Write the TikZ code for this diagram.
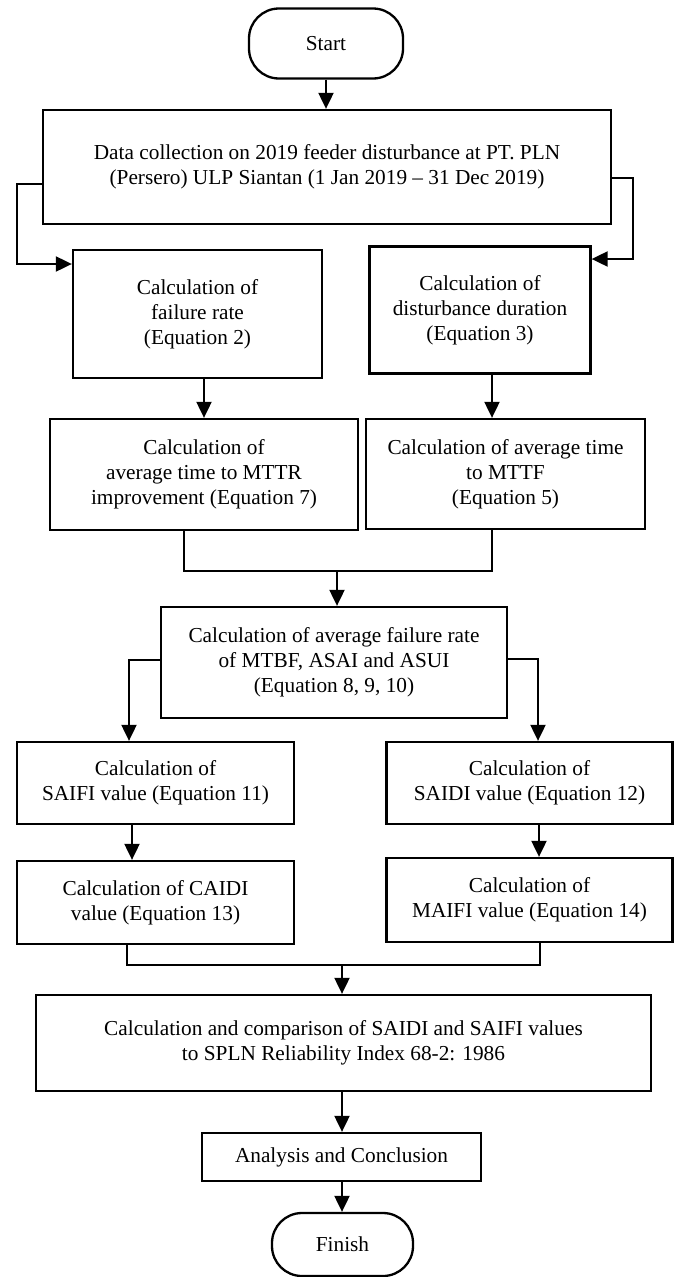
\documentclass[tikz,border=0pt]{standalone}
\usepackage{fontspec}
\setmainfont{Liberation Serif}
\usetikzlibrary{arrows.meta}
\begin{document}
\begin{tikzpicture}[x=1pt,y=-1pt,
  box/.style={draw,line width=2.3pt,inner sep=0pt,align=center,font=\fontsize{21.3}{25}\selectfont},
  term/.style={box,rounded corners=30pt},
  arr/.style={line width=2pt,-{Triangle[length=16pt,width=15pt]}},
  ln/.style={line width=2pt}]
\useasboundingbox (0,0) rectangle (677,1277);
% nodes
\node[term,minimum width=154pt,minimum height=70pt] (start) at (326,43.5) {Start};
\node[box,minimum width=568pt,minimum height=114pt] (data) at (327,167) {Data collection on 2019 feeder disturbance at PT. PLN\\(Persero) ULP Siantan (1 Jan 2019 – 31 Dec 2019)};
\node[box,minimum width=249pt,minimum height=128pt] (fail) at (197.5,314) {Calculation of\\failure rate\\(Equation 2)};
\node[box,minimum width=221pt,minimum height=127pt] (dist) at (480,310) {Calculation of\\disturbance duration\\(Equation 3)};
\node[box,minimum width=308pt,minimum height=111pt] (mttr) at (204,474.5) {Calculation of\\average time to MTTR\\improvement (Equation 7)};
\node[box,minimum width=279pt,minimum height=110pt] (mttf) at (505.5,474) {Calculation of average time\\to MTTF\\(Equation 5)};
\node[box,minimum width=346pt,minimum height=111pt] (mtbf) at (334,662.5) {Calculation of average failure rate\\of MTBF, ASAI and ASUI\\(Equation 8, 9, 10)};
\node[box,minimum width=277pt,minimum height=82pt] (saifi) at (155.5,783) {Calculation of\\SAIFI value (Equation 11)};
\node[box,minimum width=286pt,minimum height=82pt] (saidi) at (529.5,783) {Calculation of\\SAIDI value (Equation 12)};
\node[box,minimum width=277pt,minimum height=83pt] (caidi) at (155.5,902.5) {Calculation of CAIDI\\value (Equation 13)};
\node[box,minimum width=286pt,minimum height=84pt] (maifi) at (529.5,900) {Calculation of\\MAIFI value (Equation 14)};
\node[box,minimum width=615pt,minimum height=96pt] (spln) at (343.5,1043) {Calculation and comparison of SAIDI and SAIFI values\\to SPLN Reliability Index 68-2: 1986};
\node[box,minimum width=279pt,minimum height=48pt] (anal) at (341.5,1157) {Analysis and Conclusion};
\node[term,minimum width=141pt,minimum height=63pt] (finish) at (342.5,1244.5) {Finish};
% helper coordinates
\coordinate (c1) at (17,184);
\coordinate (c2) at (17,264);
\coordinate (d1) at (633,178);
\coordinate (d2) at (633,259);
\coordinate (a2) at (492,0);
\coordinate (j1) at (184,571);
\coordinate (j2) at (492,571);
\coordinate (j3) at (337,571);
\coordinate (b1) at (129,660);
\coordinate (b2) at (538,659);
\coordinate (a3) at (132,0);
\coordinate (a4) at (539,0);
\coordinate (k1) at (127,965);
\coordinate (k2) at (540,965);
\coordinate (k3) at (342,965);
% connectors
\draw[arr] (start.south) -- (start.south |- data.north);
\draw[arr] (data.west |- c1) -- (c1) -- (c2) -- (fail.west |- c2);
\draw[arr] (data.east |- d1) -- (d1) -- (d2) -- (dist.east |- d2);
\draw[arr] (mttr.north |- fail.south) -- (mttr.north);
\draw[arr] (dist.south -| a2) -- (mttf.north -| a2);
\draw[ln] (mttr.south -| j1) -- (j1) -- (j2) -- (mttf.south -| j2);
\draw[arr] (j3) -- (mtbf.north -| j3);
\draw[arr] (mtbf.west |- b1) -- (b1) -- (saifi.north -| b1);
\draw[arr] (mtbf.east |- b2) -- (b2) -- (saidi.north -| b2);
\draw[arr] (saifi.south -| a3) -- (caidi.north -| a3);
\draw[arr] (saidi.south -| a4) -- (maifi.north -| a4);
\draw[ln] (caidi.south -| k1) -- (k1) -- (k2) -- (maifi.south -| k2);
\draw[arr] (k3) -- (spln.north -| k3);
\draw[arr] (spln.south -| k3) -- (anal.north -| k3);
\draw[arr] (anal.south -| k3) -- (finish.north -| k3);
\end{tikzpicture}
\end{document}
